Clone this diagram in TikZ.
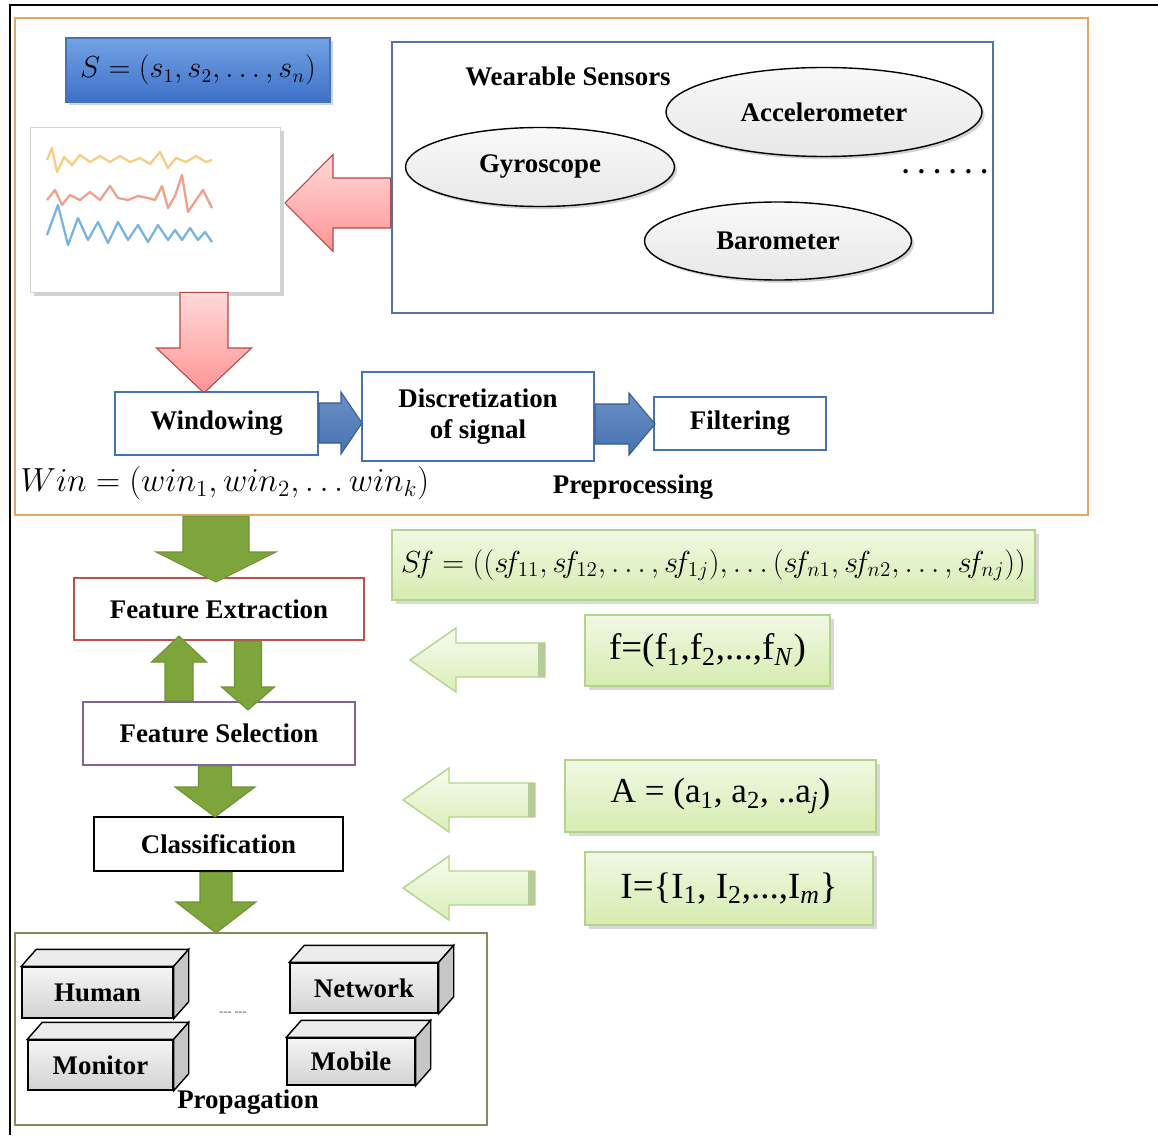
\documentclass[tikz,border=0pt]{standalone}
\usepackage{fontspec}
\setmainfont{Liberation Serif}
\usetikzlibrary{calc, shapes.geometric, shadows}
\definecolor{prepcol}{RGB}{226,166,106}
\definecolor{sensblue}{RGB}{85,115,170}
\definecolor{boxblue}{RGB}{70,115,180}
\definecolor{propcol}{RGB}{140,135,95}
\definecolor{fered}{RGB}{192,80,77}
\definecolor{fspurple}{RGB}{128,100,162}
\definecolor{arrgreen}{RGB}{125,165,60}
\definecolor{arrgreenbd}{RGB}{110,148,52}
\definecolor{lgreen}{RGB}{214,236,176}
\definecolor{lgreenbd}{RGB}{180,212,140}
\definecolor{stop}{RGB}{115,162,228}
\definecolor{sbot}{RGB}{62,112,200}
\definecolor{sigorange}{RGB}{248,205,130}
\definecolor{sigred}{RGB}{240,160,140}
\definecolor{sigblue}{RGB}{120,180,225}

\newcommand{\pxl}[1]{#1*0.02cm}
\newcommand{\arrdown}[6]{\path[#1] (#3) -- ($(#3)+(-#5,-#6)$) -- ($(#3)+(-#4,-#6)$) -- ($(#3 |- #2)+(-#4,0)$) -- ($(#3 |- #2)+(#4,0)$) -- ($(#3)+(#4,-#6)$) -- ($(#3)+(#5,-#6)$) -- cycle;}
\newcommand{\arrup}[6]{\path[#1] (#3) -- ($(#3)+(-#5,#6)$) -- ($(#3)+(-#4,#6)$) -- ($(#3 |- #2)+(-#4,0)$) -- ($(#3 |- #2)+(#4,0)$) -- ($(#3)+(#4,#6)$) -- ($(#3)+(#5,#6)$) -- cycle;}
\newcommand{\arrleft}[6]{\path[#1] (#3) -- ($(#3)+(#6,-#5)$) -- ($(#3)+(#6,-#4)$) -- ($(#2 |- #3)+(0,-#4)$) -- ($(#2 |- #3)+(0,#4)$) -- ($(#3)+(#6,#4)$) -- ($(#3)+(#6,#5)$) -- cycle;}
\newcommand{\arrright}[6]{\path[#1] (#3) -- ($(#3)+(-#6,-#5)$) -- ($(#3)+(-#6,-#4)$) -- ($(#2 |- #3)+(0,-#4)$) -- ($(#2 |- #3)+(0,#4)$) -- ($(#3)+(-#6,#4)$) -- ($(#3)+(-#6,#5)$) -- cycle;}
\newcommand{\hollowarr}[2]{\arrleft{hollow}{#1}{#2}{17}{32}{46}
    \fill[lgreenbd!90!black!80] ($(#1 |- #2)+(-7,-17)$) rectangle ($(#1 |- #2)+(0,17)$);}
\newcommand{\propcube}[5]{\node[cubeface, minimum width=\pxl{#3}, minimum height=\pxl{#4}] (#1) at (#2) {#5};
    \draw[line width=0.8pt, fill=gray!15] (#1.north west) -- ++(15,-17) -- ($(#1.north east)+(15,-17)$) -- (#1.north east) -- cycle;
    \draw[line width=0.8pt, fill=gray!45] (#1.north east) -- ++(15,-17) -- ($(#1.south east)+(15,-17)$) -- (#1.south east) -- cycle;}

\tikzset{
    lbl/.style={font=\bfseries\fontsize{15.3}{18}\selectfont},
    stepbox/.style={draw=boxblue, line width=1.3pt, fill=white, inner sep=0pt, align=center, lbl},
    sensor/.style={ellipse, draw=black, line width=0.8pt, top color=gray!5, bottom color=gray!18, inner sep=0pt, lbl,
        drop shadow={shadow xshift=1.5pt, shadow yshift=-1.5pt, opacity=0.35}},
    flowbox/.style={draw, line width=1.3pt, fill=white, inner sep=0pt, lbl},
    greenbox/.style={draw=lgreenbd, line width=0.8pt, top color=lgreen!35, bottom color=lgreen, inner sep=0pt,
        drop shadow={shadow xshift=2pt, shadow yshift=-2pt, opacity=0.3}},
    cubeface/.style={draw=black, line width=0.8pt, top color=gray!8, bottom color=gray!35, inner sep=0pt, lbl},
    pinkarrow/.style={top color=red!15, bottom color=red!42, draw=red!45!gray, line width=0.6pt},
    bluearrow/.style={top color=boxblue!80, bottom color=boxblue, draw=boxblue!80!black, line width=0.6pt},
    greenarrow/.style={fill=arrgreen, draw=arrgreenbd, line width=0.6pt},
    hollow/.style={top color=lgreen!20, bottom color=lgreen!90, draw=lgreenbd, line width=0.8pt},
    sigline/.style={line width=1.3pt, line join=round}
}

\begin{document}
\begin{tikzpicture}[x=0.02cm, y=-0.02cm]
    \useasboundingbox[fill=white] (0,0) rectangle (1158,1135);
    \draw[line width=1.7pt] (1158,5) -- (10,5) -- (10,1135);

    \node[draw=prepcol, line width=1.6pt, minimum width=\pxl{1073}, minimum height=\pxl{497}] (prepro) at (551.5,266.5) {};
    \node[draw=boxblue, line width=0.8pt, top color=stop, bottom color=sbot, minimum width=\pxl{264}, minimum height=\pxl{64},
        drop shadow={shadow xshift=1.5pt, shadow yshift=-1.5pt, opacity=0.35}, font=\fontsize{16}{19}\selectfont] (sbox) at (198,70) {$S=(s_1,s_2,\ldots,s_n)$};
    \node[draw=gray!35, fill=white, minimum width=\pxl{250}, minimum height=\pxl{165},
        drop shadow={shadow xshift=2pt, shadow yshift=-2pt, opacity=0.35}] (sig) at (155,209.5) {};
    \draw[sigline, sigorange] plot coordinates {(47,160) (52,148) (57,172) (64,157) (72,165) (80,155) (90,162) (100,156) (110,162) (120,156) (130,162) (140,158) (150,164) (160,152) (168,168) (176,158) (186,162) (196,156) (206,162) (212,160)};
    \draw[sigline, sigred] plot coordinates {(47,200) (55,190) (62,205) (70,195) (80,200) (90,192) (100,200) (110,186) (118,198) (128,200) (138,196) (148,198) (155,200) (162,186) (168,208) (175,196) (182,175) (188,212) (196,200) (203,190) (212,208)};
    \draw[sigline, sigblue] plot coordinates {(47,235) (58,205) (68,245) (78,218) (88,240) (98,222) (108,243) (118,222) (128,240) (138,225) (148,242) (158,225) (168,240) (175,230) (182,240) (190,228) (198,240) (205,232) (212,242)};

    \node[draw=sensblue, line width=1.5pt, fill=white, minimum width=\pxl{601}, minimum height=\pxl{271}] (sens) at (692.5,177.5) {};
    \node[lbl] (wear) at (568,76) {Wearable Sensors};
    \node[sensor, minimum width=\pxl{316}, minimum height=\pxl{89}] (acc) at (824,112) {Accelerometer};
    \node[sensor, minimum width=\pxl{269}, minimum height=\pxl{79}] (gyr) at (540,167) {Gyroscope};
    \node[sensor, minimum width=\pxl{267}, minimum height=\pxl{78}] (bar) at (778,241) {Barometer};
    \node[lbl] (more) at (945,172) {. . . . . .};

    \arrleft{pinkarrow}{sens.west}{285,203}{25}{48.5}{48}
    \arrdown{pinkarrow}{sig.south}{204,393}{24}{47.5}{45}

    \node[stepbox, minimum width=\pxl{203}, minimum height=\pxl{63}] (win) at (216.5,423.5) {Windowing};
    \node[stepbox, minimum width=\pxl{232}, minimum height=\pxl{89}] (disc) at (478,416.5) {Discretization\\of signal};
    \node[stepbox, minimum width=\pxl{172}, minimum height=\pxl{53}] (filt) at (740,423.5) {Filtering};
    \arrright{bluearrow}{win.east}{362,423}{20}{31}{21}
    \arrright{bluearrow}{disc.east}{655,424}{20}{31}{26}
    \node[font=\fontsize{18.6}{22}\selectfont, scale=1.1] (wins) at (225,483) {$Win=(win_1,win_2,\ldots win_k)$};
    \node[lbl] (prep) at (633,487) {Preprocessing};

    \node[flowbox, draw=fered, minimum width=\pxl{290}, minimum height=\pxl{62}] (fe) at (219,609) {Feature Extraction};
    \node[flowbox, draw=fspurple, minimum width=\pxl{272}, minimum height=\pxl{63}] (fs) at (219,733.5) {Feature Selection};
    \node[flowbox, draw=black, line width=1.6pt, minimum width=\pxl{249}, minimum height=\pxl{54}] (cls) at (218.5,844) {Classification};
    \arrdown{greenarrow}{prepro.south}{216,582}{33}{60}{30}
    \arrup{greenarrow}{fs.north}{179,636}{14}{27.5}{26}
    \arrdown{greenarrow}{fe.south}{248,710}{13.5}{26.5}{23}
    \arrdown{greenarrow}{fs.south}{215,817}{16.5}{40}{30}
    \arrdown{greenarrow}{cls.south}{216,933}{16}{40}{31}

    \node[greenbox, minimum width=\pxl{643}, minimum height=\pxl{70}, font=\fontsize{16.5}{20}\selectfont] (sf) at (713.5,565)
        {$S\!f=((s\!f_{11},s\!f_{12},\ldots,s\!f_{1j}),\ldots(s\!f_{n1},s\!f_{n2},\ldots,s\!f_{nj}))$};
    \node[greenbox, minimum width=\pxl{245}, minimum height=\pxl{71}, font=\fontsize{21}{24}\selectfont] (fvec) at (707.5,650.5)
        {f=(f\textsubscript{1},f\textsubscript{2},...,f\textsubscript{\textit{N}})};
    \node[greenbox, minimum width=\pxl{311}, minimum height=\pxl{72}, font=\fontsize{20}{24}\selectfont] (avec) at (720.5,796)
        {A = (a\textsubscript{1}, a\textsubscript{2}, ..a\textsubscript{\textit{j}})};
    \node[greenbox, minimum width=\pxl{288}, minimum height=\pxl{73}, font=\fontsize{21}{24}\selectfont] (ivec) at (729,888.5)
        {I=\{I\textsubscript{1}, I\textsubscript{2},...,I\textsubscript{\textit{m}}\}};
    \hollowarr{545,660}{410,660}
    \hollowarr{535,800}{403,800}
    \hollowarr{535,888}{403,888}

    \node[draw=propcol, line width=1.6pt, minimum width=\pxl{472}, minimum height=\pxl{192}] (prop) at (251,1029) {};
    \propcube{human}{97.5,992.5}{151}{51}{Human}
    \propcube{monitor}{100.5,1065}{145}{50}{Monitor}
    \propcube{network}{364,988}{148}{50}{Network}
    \propcube{mobile}{351,1061.5}{128}{47}{Mobile}
    \node[font=\scriptsize, text=gray!70!black] (etc) at (233,1014) {-{}-{}- -{}-{}-};
    \node[lbl] (propt) at (248,1102) {Propagation};
\end{tikzpicture}
\end{document}
